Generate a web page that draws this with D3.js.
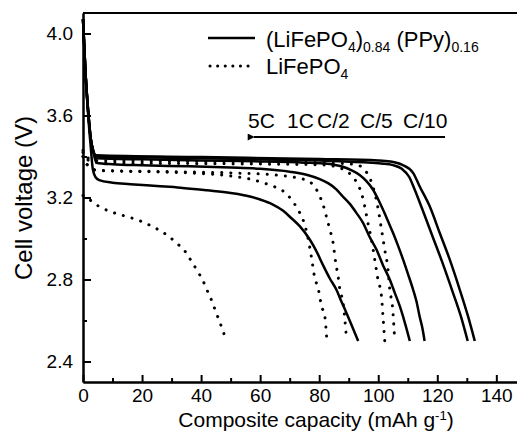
<!DOCTYPE html>
<html>
<head>
<meta charset="utf-8">
<script src="https://cdn.jsdelivr.net/npm/d3@7"></script>
<style>
  body { margin: 0; background: #fff; }
  text { font-family: "Liberation Sans", Arial, sans-serif; fill: #000; }
  .axis path, .axis line { stroke: #000; stroke-width: 2; }
  .axis text { font-size: 19px; }
</style>
</head>
<body>
<div id="chart"></div>
<script>
// Chart data (capacity mAh/g, voltage V)
var rates = ["5C", "1C", "C/2", "C/5", "C/10"];
var xTicks = [0, 20, 40, 60, 80, 100, 120, 140];
var yTicks = [2.4, 2.8, 3.2, 3.6, 4.0];

var compStart = [[0, 4.07], [0.8, 3.82], [1.7, 3.63], [2.6, 3.49], [3.4, 3.43]];

var comp5C = [[0, 4.07], [0.8, 3.82], [1.7, 3.61], [2.6, 3.45], [3.3, 3.34], [4.2, 3.3], [5.5, 3.285], [10, 3.272],
  [16, 3.265], [25, 3.256], [33, 3.248], [42, 3.235], [50, 3.222], [56.5, 3.205], [60, 3.19], [64, 3.168],
  [67.8, 3.135], [70.5, 3.1], [73.4, 3.06], [76.8, 2.995], [79, 2.94], [81.3, 2.87], [83.6, 2.805],
  [85.8, 2.751], [87.6, 2.69], [89.2, 2.638], [91.2, 2.57], [93.2, 2.5]];
var comp1C = compStart.concat([[4.5, 3.37], [10, 3.362], [20, 3.357], [36, 3.352], [50, 3.346], [60, 3.34],
  [70, 3.326], [76, 3.31], [80.2, 3.29], [83, 3.27], [85.8, 3.24], [88, 3.205], [90.3, 3.17], [92.6, 3.125],
  [94.9, 3.075], [97, 3.01], [99.4, 2.946], [101.6, 2.87], [103.9, 2.8], [105.6, 2.735], [107.3, 2.67],
  [109, 2.59], [110.7, 2.5]]);
var compC2 = compStart.concat([[4.5, 3.392], [20, 3.386], [40, 3.381], [60, 3.376], [75, 3.37], [81.3, 3.366],
  [85, 3.36], [88, 3.35], [91, 3.332], [93.7, 3.31], [96, 3.28], [98.2, 3.239], [100, 3.19], [101.6, 3.141],
  [103.3, 3.085], [105, 3.028], [106.7, 2.965], [108.4, 2.898], [110, 2.83], [111.8, 2.751], [113, 2.69],
  [114, 2.621], [115, 2.56], [115.7, 2.5]]);
var compC5 = compStart.concat([[4.5, 3.4], [20, 3.396], [40, 3.391], [60, 3.386], [80, 3.381], [95, 3.372],
  [101, 3.366], [105, 3.358], [108, 3.34], [110.5, 3.3], [112.3, 3.24], [115, 3.14], [118.4, 3.01],
  [121.8, 2.88], [125.2, 2.74], [128, 2.62], [130.3, 2.5]]);
var compC10 = compStart.concat([[4.5, 3.406], [40, 3.397], [80, 3.388], [100, 3.381], [104, 3.376],
  [108, 3.36], [111.8, 3.32], [114, 3.255], [117.4, 3.158], [120.8, 3.028], [124.2, 2.898],
  [127.6, 2.751], [130.4, 2.621], [132.7, 2.5]]);

var lfp5C = [[0, 3.21], [1.5, 3.2], [3, 3.18], [5.9, 3.153], [9, 3.133], [12.4, 3.117], [15.6, 3.104],
  [19, 3.088], [22.2, 3.068], [25.4, 3.044], [28.5, 3.016], [31.6, 2.979], [34.8, 2.933], [36.9, 2.885],
  [39, 2.836], [40.8, 2.789], [42.2, 2.742], [43.7, 2.693], [44.9, 2.646], [46.2, 2.597], [47.4, 2.549],
  [48.6, 2.5]];
var lfp1C = [[0, 3.4], [2, 3.35], [5, 3.332], [20, 3.326], [36, 3.32], [50, 3.305], [56.5, 3.29],
  [61, 3.272], [64.4, 3.255], [67.8, 3.231], [70.6, 3.19], [72.8, 3.141], [74.5, 3.093], [76.2, 3.003],
  [77.4, 2.906], [78.5, 2.808], [79.6, 2.76], [80.8, 2.67], [81.9, 2.62], [82.6, 2.5]];
var lfpC2 = [[0, 3.4], [2, 3.35], [5, 3.332], [30, 3.326], [50, 3.32], [65, 3.31], [71, 3.3], [74.5, 3.29],
  [77.9, 3.263], [80.2, 3.206], [81.3, 3.166], [82.4, 3.109], [83.6, 3.044], [84.7, 2.979], [85.6, 2.881],
  [86.4, 2.816], [87, 2.751], [88.1, 2.686], [88.6, 2.62], [89.3, 2.5]];
var lfpC5 = [[0, 3.42], [2, 3.38], [5, 3.37], [40, 3.365], [80, 3.36], [86, 3.35], [89, 3.33], [91.5, 3.3],
  [93.2, 3.26], [94.3, 3.223], [95.4, 3.158], [96.5, 3.077], [97.7, 2.995], [98.8, 2.898], [99.9, 2.8],
  [101.1, 2.719], [101.6, 2.621], [102.2, 2.5]];
var lfpC10 = [[0, 3.43], [2, 3.39], [5, 3.38], [40, 3.375], [80, 3.37], [88, 3.366], [92.6, 3.36],
  [95.4, 3.335], [97.1, 3.296], [98.5, 3.239], [99.9, 3.15], [101.1, 3.044], [102.2, 2.946], [103.3, 2.849],
  [103.9, 2.751], [104.8, 2.67], [105.6, 2.5]];

var composite = [comp5C, comp1C, compC2, compC5, compC10];
var lifepo4 = [lfp5C, lfp1C, lfpC2, lfpC5, lfpC10];

//Create Figure
var svgWidth = 517;
var svgHeight = 431;
var margin = { top: 13, right: 0, bottom: 49, left: 83 };
var width = svgWidth - margin.left - margin.right;
var height = svgHeight - margin.top - margin.bottom;

var svg = d3.select("#chart")
  .append("svg")
  .attr("width", svgWidth)
  .attr("height", svgHeight);

var chartGroup = svg.append("g")
  .attr("transform", `translate(${margin.left}, ${margin.top})`);

var x = d3.scaleLinear().domain([0, 147]).range([0, width]);
var y = d3.scaleLinear().domain([2.3, 4.1]).range([height, 0]);

// minor ticks first, then major ones
chartGroup.append("g")
  .attr("class", "axis")
  .attr("transform", `translate(0,${height})`)
  .call(d3.axisBottom(x).tickValues(d3.range(10, 141, 20)).tickSize(-4).tickSizeOuter(0).tickFormat(""));
chartGroup.append("g")
  .attr("class", "axis")
  .attr("transform", `translate(0,${height})`)
  .call(d3.axisBottom(x).tickValues(xTicks).tickSize(-7).tickSizeOuter(0).tickPadding(7)
    .tickFormat(d3.format("d")));

chartGroup.append("g")
  .attr("class", "axis")
  .call(d3.axisLeft(y).tickValues([2.6, 3.0, 3.4, 3.8]).tickSize(-4).tickSizeOuter(0).tickFormat(""));
chartGroup.append("g")
  .attr("class", "axis")
  .call(d3.axisLeft(y).tickValues(yTicks).tickSize(-8).tickSizeOuter(0).tickPadding(10)
    .tickFormat(d3.format(".1f")));

// top frame line
chartGroup.append("line")
  .attr("x1", 0).attr("x2", width)
  .attr("y1", 0).attr("y2", 0)
  .attr("stroke", "#000").attr("stroke-width", 2);

var line = d3.line()
  .x(d => x(d[0]))
  .y(d => y(d[1]))
  .curve(d3.curveMonotoneX);

chartGroup.selectAll(".comp")
  .data(composite)
  .enter()
  .append("path")
  .attr("class", "comp")
  .attr("d", line)
  .attr("fill", "none")
  .attr("stroke", "#000")
  .attr("stroke-width", 2.5);

chartGroup.selectAll(".lfp")
  .data(lifepo4)
  .enter()
  .append("path")
  .attr("class", "lfp")
  .attr("d", line)
  .attr("fill", "none")
  .attr("stroke", "#000")
  .attr("stroke-width", 3)
  .attr("stroke-linecap", "round")
  .attr("stroke-dasharray", "0.1,9");

// legend
var legend = svg.append("g");
legend.append("line")
  .attr("x1", 208).attr("x2", 255).attr("y1", 38).attr("y2", 38)
  .attr("stroke", "#000").attr("stroke-width", 2.5);
legend.append("line")
  .attr("x1", 210).attr("x2", 255).attr("y1", 66).attr("y2", 66)
  .attr("stroke", "#000").attr("stroke-width", 3)
  .attr("stroke-linecap", "round").attr("stroke-dasharray", "0.1,7.5");

var t1 = legend.append("text").attr("x", 266).attr("y", 47).style("font-size", "22px");
t1.append("tspan").text("(LiFePO");
t1.append("tspan").attr("dy", 5).style("font-size", "14px").text("4");
t1.append("tspan").attr("dy", -5).text(")");
t1.append("tspan").attr("dy", 5).style("font-size", "14px").text("0.84");
t1.append("tspan").attr("dy", -5).text(" (PPy)");
t1.append("tspan").attr("dy", 5).style("font-size", "14px").text("0.16");

var t2 = legend.append("text").attr("x", 266).attr("y", 74).style("font-size", "22px");
t2.append("tspan").text("LiFePO");
t2.append("tspan").attr("dy", 5).style("font-size", "14px").text("4");

// rate labels and arrow
var rateX = [248, 287, 317, 360, 403];
svg.selectAll(".rate")
  .data(rates)
  .enter()
  .append("text")
  .attr("class", "rate")
  .attr("x", (d, i) => rateX[i])
  .attr("y", 128)
  .style("font-size", "21px")
  .text(d => d);

svg.append("defs").append("marker")
  .attr("id", "arrow")
  .attr("viewBox", "0 0 10 10")
  .attr("refX", 1).attr("refY", 5)
  .attr("markerWidth", 5).attr("markerHeight", 3.5)
  .attr("orient", "auto-start-reverse")
  .append("path")
  .attr("d", "M10,0 L0,5 L10,10 z")
  .attr("fill", "#000");

svg.append("line")
  .attr("x1", 445).attr("x2", 254).attr("y1", 137).attr("y2", 137)
  .attr("stroke", "#000").attr("stroke-width", 2)
  .attr("marker-end", "url(#arrow)");

// axis titles
var xt = svg.append("text")
  .attr("x", 316).attr("y", 427)
  .attr("text-anchor", "middle")
  .style("font-size", "21px");
xt.append("tspan").text("Composite capacity (mAh g");
xt.append("tspan").attr("dy", -7).style("font-size", "13px").text("-1");
xt.append("tspan").attr("dy", 7).text(")");

svg.append("text")
  .attr("transform", "translate(32,198) rotate(-90)")
  .attr("text-anchor", "middle")
  .style("font-size", "24px")
  .text("Cell voltage (V)");
</script>
</body>
</html>
